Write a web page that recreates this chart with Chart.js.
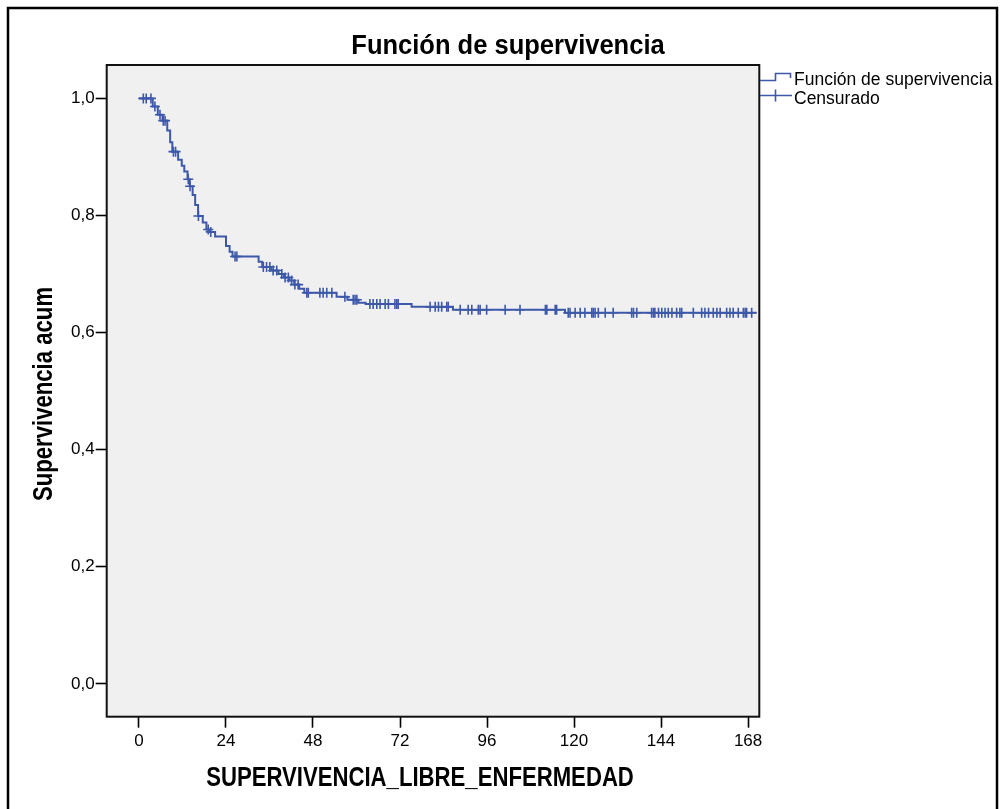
<!DOCTYPE html>
<html>
<head>
<meta charset="utf-8">
<title>Función de supervivencia</title>
<script src="https://cdn.jsdelivr.net/npm/chart.js@4/dist/chart.umd.min.js"></script>
<style>
  html, body { margin: 0; padding: 0; background: #fff; }
  #survivalChart { display: block; }
</style>
</head>
<body>
<canvas id="survivalChart" width="1003" height="809"></canvas>
<script>
// Kaplan-Meier estimate: time of each drop (months) and survival after it
const eventTimes = [0, 3.8, 5.2, 6.5, 7.8, 8.6, 9.2, 10.8, 11.8, 12.5, 13.4, 14.0, 14.8, 15.5, 16.3,
  17.6, 18.6, 19.5, 21.0, 24.0, 25.0, 25.8, 33.0, 34.0, 36.5, 38.5, 40.0, 41.5, 42.8, 44.2, 45.6,
  54.5, 57.5, 60.5, 62.5, 75.2, 86.6, 117.5];
const survival = [1.0, 0.986, 0.972, 0.962, 0.945, 0.925, 0.909, 0.895, 0.885, 0.875, 0.862, 0.850, 0.835, 0.818, 0.799,
  0.788, 0.776, 0.772, 0.764, 0.748, 0.738, 0.730, 0.721, 0.712, 0.706, 0.700, 0.694, 0.689, 0.682, 0.675, 0.668,
  0.661, 0.656, 0.651, 0.649, 0.644, 0.639, 0.634];
const followEnd = 170.3;

// Censored cases (months)
const censorTimes = [1.2, 2.0, 3.3, 4.4, 5.8, 6.7, 7.2, 9.5, 10.1, 13.6, 14.1, 16.4, 19.1, 19.8, 26.5, 27.0,
  34.3, 35.2, 36.1, 37.0, 38.0, 39.4, 40.3, 41.2, 42.1, 43.0, 43.9, 46.3, 46.7, 49.9, 50.8, 51.8, 53.2,
  56.8, 59.1, 59.6, 60.1, 63.7, 64.6, 65.6, 66.5, 67.9, 68.8, 70.6, 71.1, 71.5, 80.3, 81.7, 82.6, 83.5,
  84.9, 85.3, 88.6, 90.8, 91.8, 93.6, 94.1, 95.9, 101.0, 105.1, 112.1, 112.5, 114.8, 115.2, 118.4, 118.9,
  120.3, 121.7, 123.0, 124.9, 125.3, 125.8, 126.7, 128.6, 130.8, 135.9, 136.4, 137.3, 141.4, 141.9, 142.3,
  143.3, 144.2, 145.1, 146.0, 147.0, 148.3, 149.2, 149.7, 152.9, 155.2, 156.1, 157.1, 158.4, 159.4, 160.3,
  162.1, 163.0, 163.9, 165.3, 166.7, 167.2, 167.6, 169.0];

const xTicks = [0, 24, 48, 72, 96, 120, 144, 168];
const yTicks = [0, 0.2, 0.4, 0.6, 0.8, 1.0];
const yTickLabels = ['0,0', '0,2', '0,4', '0,6', '0,8', '1,0'];

const fontFamily = "'Liberation Sans', Arial, sans-serif";
const curveBlue = '#3D58A9';

// survival value in effect at time t (step function)
function survivalAt(t) {
  let s = survival[0];
  for (let i = 0; i < eventTimes.length; i++) {
    if (eventTimes[i] <= t) s = survival[i];
  }
  return s;
}

const curvePoints = eventTimes.map((t, i) => ({ x: t, y: survival[i] }));
curvePoints.push({ x: followEnd, y: survival[survival.length - 1] });
const censorPoints = censorTimes.map(t => ({ x: t, y: survivalAt(t) }));

// draws text squeezed horizontally, optionally rotated
function drawText(ctx, text, x, y, font, sx, angle) {
  ctx.save();
  ctx.translate(x, y);
  if (angle) ctx.rotate(angle);
  ctx.scale(sx, 1);
  ctx.font = font;
  ctx.fillStyle = '#000';
  ctx.textAlign = 'center';
  ctx.textBaseline = 'alphabetic';
  ctx.fillText(text, 0, 0);
  ctx.restore();
}

const decorations = {
  id: 'decorations',
  beforeDraw(chart) {
    const { ctx, chartArea: a } = chart;
    ctx.save();
    ctx.fillStyle = '#fff';
    ctx.fillRect(0, 0, chart.width, chart.height);
    ctx.fillStyle = '#F0F0F0';
    ctx.fillRect(a.left, a.top, a.right - a.left, a.bottom - a.top);
    ctx.restore();
  },
  afterDraw(chart) {
    const { ctx, chartArea: a } = chart;
    ctx.save();

    // plot frame
    ctx.strokeStyle = '#111';
    ctx.lineWidth = 2;
    ctx.strokeRect(a.left, a.top, a.right - a.left, a.bottom - a.top);

    // outer frame
    ctx.strokeStyle = '#000';
    ctx.lineWidth = 2.5;
    ctx.strokeRect(8, 8, 989, 860);

    // titles
    drawText(ctx, 'Función de supervivencia', 508, 54, 'bold 27px ' + fontFamily, 0.945);
    drawText(ctx, 'SUPERVIVENCIA_LIBRE_ENFERMEDAD', 420, 786, 'bold 27px ' + fontFamily, 0.82);
    drawText(ctx, 'Supervivencia acum', 52, 394, 'bold 27px ' + fontFamily, 0.82, -Math.PI / 2);

    // legend
    ctx.strokeStyle = curveBlue;
    ctx.lineWidth = 1.6;
    ctx.beginPath();
    ctx.moveTo(760, 80.5);
    ctx.lineTo(775.5, 80.5);
    ctx.lineTo(775.5, 73.5);
    ctx.lineTo(790.5, 73.5);
    ctx.lineTo(790.5, 78);
    ctx.moveTo(760, 95.5);
    ctx.lineTo(792, 95.5);
    ctx.moveTo(775.5, 89.5);
    ctx.lineTo(775.5, 101.5);
    ctx.stroke();

    ctx.fillStyle = '#000';
    ctx.font = '17.5px ' + fontFamily;
    ctx.textAlign = 'left';
    ctx.textBaseline = 'alphabetic';
    ctx.fillText('Función de supervivencia', 794, 85);
    ctx.fillText('Censurado', 794, 104);
    ctx.restore();
  }
};

const tickFont = { family: fontFamily, size: 17 };

new Chart(document.getElementById('survivalChart'), {
  type: 'line',
  data: {
    datasets: [
      {
        label: 'Censurado',
        data: censorPoints,
        showLine: false,
        pointStyle: 'cross',
        pointRadius: 5,
        pointBorderWidth: 1.6,
        pointBorderColor: curveBlue,
        borderColor: curveBlue
      },
      {
        label: 'Función de supervivencia',
        data: curvePoints,
        stepped: true,
        borderColor: curveBlue,
        borderWidth: 2,
        pointRadius: 0,
        fill: false
      }
    ]
  },
  options: {
    responsive: false,
    animation: false,
    devicePixelRatio: 1,
    layout: { padding: { top: 65, right: 243.7, bottom: 0, left: 0 } },
    plugins: {
      legend: { display: false },
      tooltip: { enabled: false },
      title: { display: false }
    },
    scales: {
      x: {
        type: 'linear',
        min: -8.9,
        max: 171.1,
        afterBuildTicks: scale => { scale.ticks = xTicks.map(v => ({ value: v })); },
        afterFit: scale => { scale.height = 92.3; },
        ticks: {
          font: tickFont,
          color: '#000',
          padding: 3,
          maxRotation: 0,
          autoSkip: false,
          callback: v => String(v)
        },
        grid: { display: true, drawOnChartArea: false, drawTicks: true, tickLength: 11, tickWidth: 1.6, tickColor: '#000' },
        border: { display: false }
      },
      y: {
        type: 'linear',
        min: -0.056,
        max: 1.057,
        afterBuildTicks: scale => { scale.ticks = yTicks.map(v => ({ value: v })); },
        afterFit: scale => { scale.width = 106.7; },
        ticks: {
          font: tickFont,
          color: '#000',
          padding: 1,
          autoSkip: false,
          callback: (v, i) => yTickLabels[i]
        },
        grid: { display: true, drawOnChartArea: false, drawTicks: true, tickLength: 11, tickWidth: 1.6, tickColor: '#000' },
        border: { display: false }
      }
    }
  },
  plugins: [decorations]
});
</script>
</body>
</html>
